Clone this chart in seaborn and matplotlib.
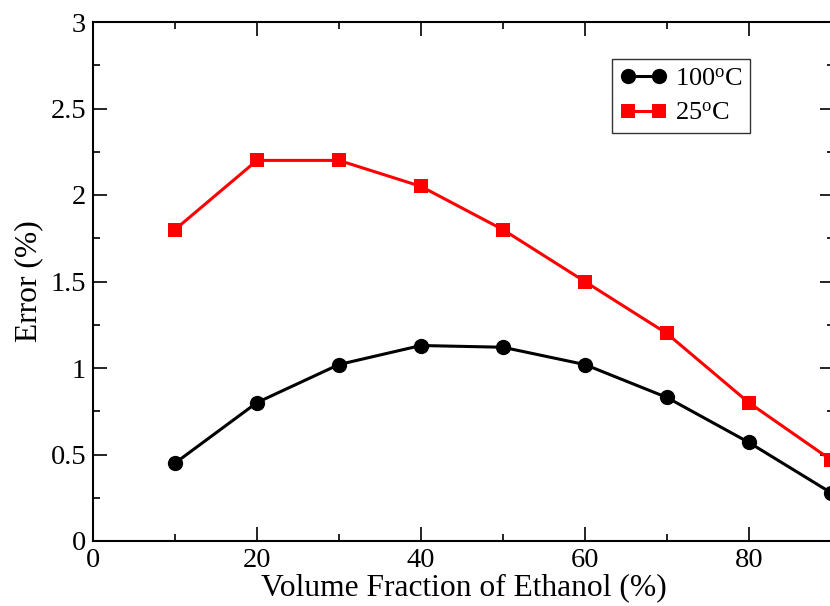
import matplotlib
matplotlib.use("Agg")
import matplotlib.pyplot as plt
from matplotlib.ticker import MultipleLocator
import pandas as pd
import seaborn as sns

# Ethanol volume fraction (%) and measured error (%) at two temperatures
fraction = [10, 20, 30, 40, 50, 60, 70, 80, 90]
error_100c = [0.45, 0.80, 1.02, 1.13, 1.12, 1.02, 0.83, 0.57, 0.28]
error_25c = [1.80, 2.20, 2.20, 2.05, 1.80, 1.50, 1.20, 0.80, 0.47]
series_labels = ["100$^\\mathrm{o}$C", "25$^\\mathrm{o}$C"]

sns.set_style("ticks")
plt.rcParams["font.family"] = ["Liberation Serif", "DejaVu Serif"]
plt.rcParams["mathtext.fontset"] = "custom"
plt.rcParams["mathtext.rm"] = "Liberation Serif"
plt.rcParams["mathtext.it"] = "Liberation Serif:italic"
plt.rcParams["text.color"] = "black"
plt.rcParams["axes.labelcolor"] = "black"

df_hot = pd.DataFrame({"x": fraction, "y": error_100c})
df_room = pd.DataFrame({"x": fraction, "y": error_25c})

fig = plt.figure(figsize=(8.30, 6.06), dpi=100)
W, H = 830, 606
left, right, top, bottom = 93, 834, 22, 541
ax = fig.add_axes([left / W, 1 - bottom / H, (right - left) / W, (bottom - top) / H])

sns.lineplot(data=df_hot, x="x", y="y", ax=ax, color="black", linewidth=2.2,
             marker="o", markersize=11, markeredgewidth=0, label=series_labels[0])
sns.lineplot(data=df_room, x="x", y="y", ax=ax, color="#ff0000", linewidth=2.2,
             marker="s", markersize=10, markeredgewidth=0, label=series_labels[1])

ax.set_xlim(0, 90.4)
ax.set_ylim(0, 3)
ax.xaxis.set_major_locator(MultipleLocator(20))
ax.xaxis.set_minor_locator(MultipleLocator(10))
ax.yaxis.set_major_locator(MultipleLocator(0.5))
ax.yaxis.set_minor_locator(MultipleLocator(0.25))
ax.set_yticks([0, 0.5, 1, 1.5, 2, 2.5, 3])
ax.set_yticklabels(["0", "0.5", "1", "1.5", "2", "2.5", "3"])

ax.tick_params(which="both", direction="in", top=True, right=True,
               labelsize=20.5, colors="black", labelcolor="black")
ax.tick_params(which="major", length=10, width=1.2, pad=5)
ax.tick_params(which="minor", length=5, width=1.2)
for sp in ax.spines.values():
    sp.set_visible(True)
    sp.set_linewidth(1.5)
    sp.set_color("black")

ax.set_xlabel("Volume Fraction of Ethanol (%)", fontsize=22.7, labelpad=0)
ax.set_ylabel("Error (%)", fontsize=22.7, labelpad=5)

leg = ax.legend(loc="upper left", bbox_to_anchor=(0.70, 0.929), borderaxespad=0,
                numpoints=2, fontsize=19, frameon=True, fancybox=False,
                edgecolor="black", handlelength=1.78, handletextpad=0.3,
                borderpad=0.3, labelspacing=0.42)
leg.get_frame().set_linewidth(1.0)

fig.savefig("out.png", dpi=100)
